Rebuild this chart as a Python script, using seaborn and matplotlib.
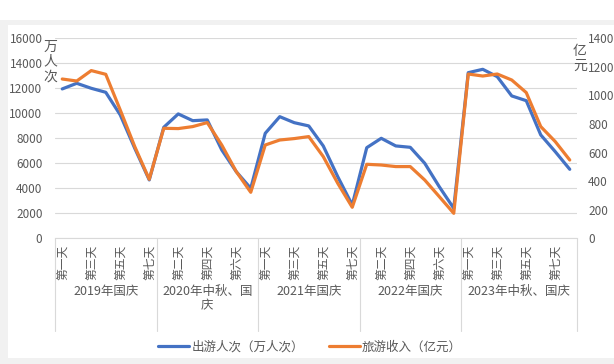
import numpy as np
import pandas as pd
import matplotlib
matplotlib.use("Agg")
import matplotlib.pyplot as plt
import matplotlib.transforms as mtransforms
from matplotlib.patches import Rectangle
from matplotlib.lines import Line2D
import seaborn as sns

# ---------------- data ----------------
groups = ["2019年国庆", "2020年中秋、国\n庆", "2021年国庆", "2022年国庆", "2023年中秋、国庆"]
group_days = [7, 7, 7, 7, 8]
day_names = ["第一天", "第二天", "第三天", "第四天", "第五天", "第六天", "第七天", "第八天"]

trips = [11950, 12400, 12000, 11680, 9870, 7200, 4670,
         8880, 9950, 9410, 9470, 7070, 5330, 4000,
         8400, 9730, 9250, 8990, 7390, 4930, 2670,
         7250, 8000, 7390, 7280, 6000, 4130, 2400,
         13250, 13520, 12930, 11390, 11010, 8270, 6930, 5520]
income = [1115, 1101, 1174, 1148, 898, 642, 413,
          770, 768, 782, 810, 653, 467, 322,
          653, 688, 698, 712, 572, 385, 217,
          518, 513, 502, 502, 408, 292, 175,
          1150, 1136, 1150, 1108, 1020, 782, 677, 548]

series_trips = "出游人次（万人次）"
series_income = "旅游收入（亿元）"
left_unit = "万\n人\n次"
right_unit = "亿\n元"

# ---------------- build table ----------------
cat_labels = []
for d in group_days:
    cat_labels += day_names[:d]
idx = np.arange(len(cat_labels))
df = pd.DataFrame({"idx": idx, "trips": trips, "income": income})

# ---------------- style ----------------
sns.set_theme(style="white")
plt.rcParams["font.family"] = ["Noto Sans CJK SC", "DejaVu Sans"]
plt.rcParams["axes.unicode_minus"] = False
txt = "#595959"
grid = "#d9d9d9"
blue = "#4472C4"
orange = "#ED7D31"

W, H = 614, 364
fig = plt.figure(figsize=(W / 100, H / 100), dpi=100)
fig.patch.set_facecolor("#f1f1f1")
# page / card background
fig.patches.append(Rectangle((0, (H - 20) / H), 1, 20 / H, transform=fig.transFigure,
                             facecolor="white", edgecolor="none", zorder=-10))
fig.patches.append(Rectangle((8 / W, (H - 358) / H), 1, (358 - 25) / H, transform=fig.transFigure,
                             facecolor="white", edgecolor="none", zorder=-10))

x0, x1 = 55, 577
ytop, ybot = 38.3, 238.3
ax = fig.add_axes([x0 / W, (H - ybot) / H, (x1 - x0) / W, (ybot - ytop) / H])
ax.set_facecolor("none")
ax2 = ax.twinx()
ax2.set_facecolor("none")

sns.lineplot(data=df, x="idx", y="trips", ax=ax, color=blue, linewidth=2.3, legend=False)
sns.lineplot(data=df, x="idx", y="income", ax=ax2, color=orange, linewidth=2.3, legend=False)

n = len(cat_labels)
ax.set_xlim(-0.5, n - 0.5)
ax.set_ylim(0, 16000)
ax2.set_ylim(0, 1400)
ax.set_yticks(np.arange(0, 16001, 2000))
ax2.set_yticks(np.arange(0, 1401, 200))
ax.yaxis.grid(True, color=grid, linewidth=0.8)
ax.set_axisbelow(True)

for a in (ax, ax2):
    for s in a.spines.values():
        s.set_visible(False)
    a.set_xlabel("")
    a.set_ylabel("")
ax.spines["bottom"].set_visible(True)
ax.spines["bottom"].set_color(grid)
ax.spines["bottom"].set_linewidth(0.8)

ax.tick_params(axis="y", length=0, pad=9, labelsize=8.5, labelcolor=txt)
ax2.tick_params(axis="y", length=0, pad=8, labelsize=8.5, labelcolor=txt)

# category tick labels (every other)
tick_pos = idx[::2]
ax.set_xticks(tick_pos)
ax.set_xticklabels([cat_labels[i] for i in tick_pos], rotation=90, fontsize=8.5, color=txt)
ax.tick_params(axis="x", length=0, pad=5)

# group separators and group labels
trans = mtransforms.blended_transform_factory(ax.transData, ax.transAxes)
bounds = np.concatenate([[0], np.cumsum(group_days)]) - 0.5
for b in bounds:
    ax.plot([b, b], [0, -(331 - ybot) / (ybot - ytop)], transform=trans, color=grid,
            linewidth=0.8, clip_on=False)
for g, a_, b_ in zip(groups, bounds[:-1], bounds[1:]):
    ax.text((a_ + b_) / 2, -(285 - ybot) / (ybot - ytop), g, transform=trans, ha="center",
            va="top", fontsize=9, color=txt, linespacing=1.15, multialignment="center")

# unit labels
fig.text(50 / W, (H - 40) / H, left_unit, ha="center", va="top", fontsize=10, color=txt,
         linespacing=1.05)
fig.text(580 / W, (H - 44) / H, right_unit, ha="center", va="top", fontsize=10, color=txt,
         linespacing=1.05)

# legend
handles = [Line2D([], [], color=blue, linewidth=2.3), Line2D([], [], color=orange, linewidth=2.3)]
fig.legend(handles, [series_trips, series_income], loc="center", bbox_to_anchor=(310 / W, (H - 347) / H),
           ncol=2, frameon=False, fontsize=9, handlelength=2.5, handletextpad=0.15,
           columnspacing=2.0, labelcolor=txt)

fig.savefig("out.png", dpi=100, facecolor=fig.get_facecolor())
